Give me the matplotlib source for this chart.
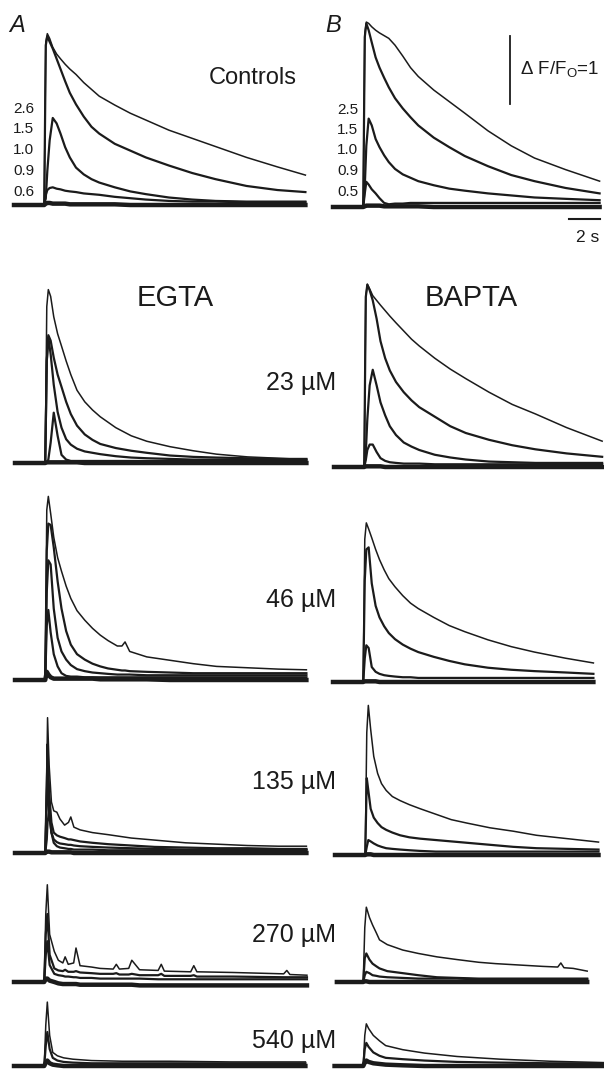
import matplotlib
matplotlib.use("Agg")
import matplotlib.pyplot as plt

plt.rcParams["font.family"] = ["Liberation Sans", "DejaVu Sans"]
plt.rcParams["mathtext.fontset"] = "custom"
plt.rcParams["mathtext.rm"] = "Liberation Sans"

# ----------------------------------------------------
# Data: dF/F0 traces (time in s)
# ----------------------------------------------------
# Controls, column A
ctrl_a_t = [0, 1.0, 1.95, 2.05, 2.15, 2.3, 2.5, 2.75, 3.0, 3.3, 3.6, 4.0, 4.5, 5.0,
            5.5, 6.5, 7.5, 8.5, 10, 11.5, 13, 15, 17, 18.8]
ctrl_a = [
    [0, 0.01, 0, 2.4, 2.52, 2.45, 2.32, 2.22, 2.15, 2.07, 2.0, 1.92, 1.8, 1.7,
     1.6, 1.47, 1.35, 1.25, 1.1, 0.98, 0.86, 0.7, 0.56, 0.44],
    [0, 0, 0, 2.35, 2.48, 2.4, 2.3, 2.15, 2.0, 1.82, 1.65, 1.48, 1.3, 1.15,
     1.05, 0.9, 0.8, 0.7, 0.58, 0.47, 0.38, 0.28, 0.22, 0.19],
    [0, 0, 0, 0.1, 0.5, 0.95, 1.28, 1.2, 1.05, 0.85, 0.7, 0.55, 0.45, 0.38,
     0.33, 0.26, 0.2, 0.16, 0.11, 0.08, 0.06, 0.05, 0.05, 0.05],
    [0, 0, 0, 0.15, 0.22, 0.25, 0.26, 0.24, 0.23, 0.21, 0.2, 0.19, 0.17, 0.16,
     0.15, 0.12, 0.1, 0.08, 0.06, 0.05, 0.05, 0.04, 0.04, 0.04],
    [0, 0, 0, 0.02, 0.03, 0.03, 0.02, 0.02, 0.02, 0.02, 0.01, 0.01, 0.01, 0.01,
     0.01, 0.01, 0, 0, 0, 0, 0, 0, 0, 0],
]
ctrl_a_labels = ["2.6", "1.5", "1.0", "0.9", "0.6"]

# Controls, column B
ctrl_b_t = [0, 1.0, 1.95, 2.05, 2.15, 2.3, 2.5, 2.75, 3.0, 3.3, 3.6, 4.0, 4.5, 5.0,
            5.5, 6.5, 7.5, 8.5, 10, 11.5, 13, 15, 17.2]
ctrl_b = [
    [0, 0, 0, 2.55, 2.72, 2.7, 2.65, 2.6, 2.56, 2.52, 2.48, 2.38, 2.22, 2.05,
     1.92, 1.72, 1.55, 1.38, 1.12, 0.9, 0.72, 0.55, 0.38],
    [0, 0, 0, 2.5, 2.7, 2.6, 2.42, 2.2, 2.05, 1.9, 1.76, 1.6, 1.45, 1.32,
     1.2, 1.02, 0.88, 0.75, 0.6, 0.47, 0.38, 0.28, 0.2],
    [0, 0, 0, 0.3, 0.9, 1.3, 1.2, 1.0, 0.88, 0.76, 0.66, 0.56, 0.48, 0.43,
     0.38, 0.32, 0.27, 0.24, 0.2, 0.17, 0.14, 0.12, 0.1],
    [0, 0, 0, 0.2, 0.37, 0.33, 0.26, 0.2, 0.13, 0.06, 0.04, 0.05, 0.05, 0.06,
     0.06, 0.06, 0.06, 0.06, 0.06, 0.06, 0.06, 0.06, 0.06],
    [0, 0, 0, 0.01, 0.02, 0.02, 0.02, 0.02, 0.02, 0.01, 0.01, 0.01, 0.01, 0.01,
     0.01, 0, 0, 0, 0, 0, 0, 0, 0],
]
ctrl_b_labels = ["2.5", "1.5", "1.0", "0.9", "0.5"]

# EGTA 23 uM
egta23_t = ctrl_a_t
egta23 = [
    [0, 0, 0, 2.3, 2.55, 2.45, 2.15, 1.9, 1.72, 1.5, 1.3, 1.07, 0.9, 0.78,
     0.68, 0.52, 0.4, 0.32, 0.24, 0.18, 0.13, 0.09, 0.07, 0.05],
    [0, 0, 0, 1.5, 1.88, 1.8, 1.55, 1.3, 1.12, 0.9, 0.72, 0.55, 0.42, 0.34,
     0.28, 0.22, 0.18, 0.15, 0.11, 0.09, 0.08, 0.07, 0.06, 0.06],
    [0, 0, 0, 1.5, 1.85, 1.6, 1.15, 0.75, 0.52, 0.35, 0.27, 0.21, 0.17, 0.15,
     0.13, 0.1, 0.08, 0.07, 0.06, 0.05, 0.05, 0.05, 0.05, 0.05],
    [0, 0, 0, 0, 0.05, 0.3, 0.74, 0.4, 0.12, 0.05, 0.03, 0.03, 0.03, 0.03,
     0.03, 0.03, 0.03, 0.03, 0.03, 0.03, 0.03, 0.03, 0.03, 0.03],
    [0, 0, 0, 0.01, 0.01, 0.01, 0.01, 0.01, 0.01, 0.01, 0.01, 0.01, 0, 0,
     0, 0, 0, 0, 0, 0, 0, 0, 0, 0],
]

# EGTA 46 uM
egta46_t = [0, 1.0, 1.95, 2.05, 2.15, 2.3, 2.5, 2.75, 3.0, 3.3, 3.6, 4.0, 4.5, 5.0,
            5.5, 6.0, 6.6, 6.9, 7.1, 7.4, 8.5, 10, 11.5, 13, 15, 17, 18.8]
egta46 = [
    [0, 0, 0, 2.5, 2.7, 2.45, 2.1, 1.8, 1.6, 1.38, 1.2, 1.02, 0.88, 0.76,
     0.66, 0.58, 0.5, 0.5, 0.56, 0.42, 0.34, 0.29, 0.24, 0.2, 0.18, 0.16, 0.15],
    [0, 0, 0, 1.9, 2.3, 2.28, 1.95, 1.45, 1.05, 0.72, 0.52, 0.38, 0.3, 0.24,
     0.2, 0.17, 0.15, 0.14, 0.14, 0.13, 0.12, 0.11, 0.1, 0.1, 0.1, 0.1, 0.1],
    [0, 0, 0, 1.3, 1.76, 1.7, 1.05, 0.62, 0.42, 0.3, 0.22, 0.16, 0.13, 0.11,
     0.1, 0.09, 0.08, 0.08, 0.08, 0.08, 0.07, 0.07, 0.07, 0.07, 0.07, 0.07, 0.07],
    [0, 0, 0, 0.8, 1.03, 0.7, 0.38, 0.2, 0.1, 0.06, 0.05, 0.05, 0.04, 0.04,
     0.04, 0.04, 0.04, 0.04, 0.04, 0.04, 0.04, 0.04, 0.04, 0.04, 0.04, 0.04, 0.04],
    [0, 0, 0, 0.12, 0.08, 0.04, 0.02, 0.02, 0.02, 0.02, 0.02, 0.02, 0.02, 0.02,
     0.01, 0.01, 0.01, 0.01, 0.01, 0.01, 0.01, 0, 0, 0, 0, 0, 0],
]

# EGTA 135 uM
egta135_t = [0, 1.0, 1.95, 2.05, 2.1, 2.2, 2.35, 2.5, 2.7, 2.9, 3.2, 3.45, 3.6,
             3.8, 4.2, 5.0, 6.0, 7.5, 9, 11, 13, 15, 17, 18.8]
egta135 = [
    [0, 0, 0, 1.2, 1.99, 1.3, 0.75, 0.62, 0.6, 0.5, 0.41, 0.45, 0.53, 0.38,
     0.34, 0.3, 0.27, 0.22, 0.19, 0.15, 0.13, 0.11, 0.1, 0.1],
    [0, 0, 0, 1.0, 1.6, 0.9, 0.45, 0.3, 0.26, 0.24, 0.22, 0.2, 0.2, 0.19,
     0.17, 0.15, 0.13, 0.11, 0.09, 0.08, 0.07, 0.07, 0.06, 0.06],
    [0, 0, 0, 0.8, 1.2, 0.6, 0.3, 0.2, 0.16, 0.14, 0.13, 0.12, 0.12, 0.11,
     0.1, 0.09, 0.08, 0.07, 0.06, 0.05, 0.05, 0.05, 0.05, 0.05],
    [0, 0, 0, 0.2, 0.45, 0.6, 0.3, 0.15, 0.1, 0.08, 0.07, 0.06, 0.06, 0.05,
     0.05, 0.05, 0.04, 0.04, 0.04, 0.04, 0.04, 0.04, 0.04, 0.04],
    [0, 0, 0, 0.02, 0.02, 0.02, 0.01, 0.01, 0.01, 0.01, 0.01, 0.01, 0.01, 0,
     0, 0, 0, 0, 0, 0, 0, 0, 0, 0],
]

# EGTA 270 uM
egta270_t = [0, 1.0, 1.95, 2.05, 2.15, 2.3, 2.6, 2.86, 3.15, 3.3, 3.5, 3.85, 4.0,
             4.26, 5.0, 5.55, 6.4, 6.6, 6.8, 7.4, 7.6, 8.1, 9.3, 9.5, 9.7, 11.4,
             11.6, 11.8, 14.1, 17.4, 17.6, 17.8, 18.9]
egta270 = [
    [0, 0, 0, 1.0, 1.43, 0.7, 0.45, 0.32, 0.28, 0.37, 0.26, 0.28, 0.5, 0.24,
     0.22, 0.2, 0.19, 0.26, 0.19, 0.2, 0.32, 0.18, 0.17, 0.26, 0.16, 0.15, 0.24,
     0.15, 0.14, 0.12, 0.17, 0.11, 0.1],
    [0, 0, 0, 0.7, 1.0, 0.4, 0.2, 0.17, 0.16, 0.18, 0.15, 0.15, 0.16, 0.14,
     0.13, 0.12, 0.12, 0.13, 0.11, 0.11, 0.12, 0.1, 0.1, 0.12, 0.09, 0.09, 0.1,
     0.08, 0.08, 0.07, 0.07, 0.07, 0.07],
    [0, 0, 0, 0.4, 0.6, 0.25, 0.12, 0.1, 0.09, 0.08, 0.08, 0.07, 0.07, 0.06,
     0.06, 0.05, 0.05, 0.05, 0.05, 0.05, 0.05, 0.05, 0.04, 0.04, 0.04, 0.04, 0.04,
     0.04, 0.04, 0.04, 0.04, 0.04, 0.04],
    [0, 0, 0, 0.05, 0.05, 0.02, 0, -0.02, -0.03, -0.03, -0.03, -0.03, -0.03, -0.04,
     -0.04, -0.04, -0.04, -0.04, -0.04, -0.04, -0.04, -0.05, -0.05, -0.05, -0.05, -0.05, -0.05,
     -0.05, -0.05, -0.05, -0.05, -0.05, -0.05],
]

# EGTA 540 uM
egta540_t = [0, 1.0, 1.95, 2.05, 2.15, 2.3, 2.5, 2.8, 3.2, 3.8, 5, 7, 10, 14, 18.8]
egta540 = [
    [0, 0, 0, 0.6, 0.94, 0.45, 0.2, 0.15, 0.12, 0.1, 0.08, 0.07, 0.07, 0.06, 0.06],
    [0, 0, 0, 0.3, 0.5, 0.25, 0.12, 0.08, 0.06, 0.05, 0.04, 0.04, 0.04, 0.04, 0.04],
    [0, 0, 0, 0.05, 0.08, 0.04, 0.02, 0.01, 0, 0, 0, 0, 0, 0, 0],
]

# BAPTA 23 uM
bapta23_t = [0, 1.0, 1.95, 2.05, 2.15, 2.3, 2.5, 2.75, 3.0, 3.3, 3.6, 4.0, 4.5, 5.0,
             5.5, 6.5, 7.5, 8.5, 10, 11.5, 13, 15, 17.3]
bapta23 = [
    [0, 0, 0, 2.5, 2.69, 2.62, 2.52, 2.45, 2.38, 2.3, 2.22, 2.12, 2.0, 1.88,
     1.78, 1.6, 1.44, 1.3, 1.1, 0.92, 0.78, 0.58, 0.38],
    [0, 0, 0, 2.5, 2.68, 2.6, 2.45, 2.18, 1.85, 1.6, 1.42, 1.25, 1.1, 0.98,
     0.88, 0.74, 0.6, 0.5, 0.4, 0.32, 0.26, 0.2, 0.15],
    [0, 0, 0, 0.2, 0.7, 1.2, 1.43, 1.2, 0.95, 0.76, 0.6, 0.47, 0.36, 0.3,
     0.25, 0.18, 0.14, 0.11, 0.08, 0.07, 0.06, 0.06, 0.06],
    [0, 0, 0, 0.1, 0.25, 0.33, 0.33, 0.22, 0.13, 0.09, 0.07, 0.06, 0.05, 0.05,
     0.05, 0.04, 0.04, 0.04, 0.04, 0.04, 0.04, 0.04, 0.04],
    [0, 0, 0, 0.01, 0.01, 0.01, 0.01, 0.01, 0.01, 0, 0, 0, 0, 0,
     0, 0, 0, 0, 0, 0, 0, 0, 0],
]

# BAPTA 46 uM
bapta46_t = [0, 1.0, 1.95, 2.05, 2.15, 2.3, 2.5, 2.75, 3.0, 3.3, 3.6, 4.0, 4.5, 5.0,
             5.5, 6.5, 7.5, 8.5, 10, 11.5, 13, 15, 16.8]
bapta46 = [
    [0, 0, 0, 2.1, 2.34, 2.25, 2.12, 1.95, 1.8, 1.65, 1.52, 1.4, 1.27, 1.16,
     1.08, 0.95, 0.83, 0.74, 0.62, 0.52, 0.44, 0.35, 0.28],
    [0, 0, 0, 1.5, 1.95, 1.98, 1.45, 1.12, 0.95, 0.82, 0.72, 0.63, 0.55, 0.49,
     0.44, 0.37, 0.31, 0.26, 0.21, 0.18, 0.16, 0.14, 0.12],
    [0, 0, 0, 0.35, 0.54, 0.5, 0.22, 0.15, 0.12, 0.1, 0.09, 0.08, 0.07, 0.07,
     0.06, 0.06, 0.06, 0.06, 0.06, 0.06, 0.06, 0.06, 0.06],
    [0, 0, 0, 0.01, 0.01, 0.01, 0.01, 0.01, 0, 0, 0, 0, 0, 0,
     0, 0, 0, 0, 0, 0, 0, 0, 0],
]

# BAPTA 135 uM
bapta135_t = [0, 1.0, 1.95, 2.05, 2.15, 2.3, 2.5, 2.75, 3.0, 3.3, 3.7, 4.2, 4.8,
              5.5, 6.5, 7.5, 8.5, 10, 11.5, 13, 15, 17]
bapta135 = [
    [0, 0, 0, 1.8, 2.2, 1.85, 1.45, 1.2, 1.05, 0.95, 0.86, 0.8, 0.74, 0.68,
     0.6, 0.52, 0.47, 0.4, 0.35, 0.29, 0.24, 0.19],
    [0, 0, 0, 1.13, 0.95, 0.68, 0.55, 0.47, 0.41, 0.37, 0.33, 0.29, 0.26, 0.24,
     0.22, 0.2, 0.18, 0.15, 0.12, 0.1, 0.09, 0.08],
    [0, 0, 0, 0.12, 0.22, 0.2, 0.17, 0.14, 0.12, 0.1, 0.09, 0.08, 0.07, 0.06,
     0.05, 0.05, 0.05, 0.05, 0.05, 0.05, 0.05, 0.05],
    [0, 0, 0, 0.01, 0.01, 0.01, 0, 0, 0, 0, 0, 0, 0, 0,
     0, 0, 0, 0, 0, 0, 0, 0],
]

# BAPTA 270 uM
bapta270_t = [0.25, 1.0, 1.95, 2.05, 2.15, 2.35, 2.55, 2.8, 3.0, 3.5, 4.5, 5.5,
              6.7, 8, 9.4, 10.5, 12, 13.5, 14.5, 14.7, 14.9, 15.5, 16.4]
bapta270 = [
    [0, 0, 0, 0.8, 1.1, 0.95, 0.84, 0.72, 0.62, 0.55, 0.47, 0.42, 0.37, 0.33,
     0.29, 0.27, 0.25, 0.23, 0.22, 0.28, 0.21, 0.2, 0.16],
    [0, 0, 0, 0.35, 0.42, 0.33, 0.27, 0.23, 0.2, 0.16, 0.13, 0.1, 0.07, 0.06,
     0.05, 0.05, 0.05, 0.05, 0.05, 0.05, 0.05, 0.05, 0.05],
    [0, 0, 0, 0.1, 0.15, 0.13, 0.1, 0.09, 0.08, 0.07, 0.06, 0.05, 0.05, 0.05,
     0.04, 0.04, 0.04, 0.04, 0.04, 0.04, 0.04, 0.04, 0.04],
    [0, 0, 0, 0.01, 0.01, 0, 0, 0, 0, 0, 0, 0, 0, 0,
     0, 0, 0, 0, 0, 0, 0, 0, 0],
]

# BAPTA 540 uM
bapta540_t = [0.1, 1.0, 1.95, 2.05, 2.15, 2.3, 2.6, 3.0, 3.4, 4.5, 5.9, 8, 10.8, 14, 17.5]
bapta540 = [
    [0, 0, 0, 0.45, 0.62, 0.55, 0.45, 0.37, 0.3, 0.24, 0.19, 0.14, 0.1, 0.07, 0.05],
    [0, 0, 0, 0.25, 0.34, 0.28, 0.2, 0.15, 0.12, 0.1, 0.08, 0.06, 0.05, 0.04, 0.04],
    [0, 0, 0, 0.05, 0.08, 0.06, 0.04, 0.03, 0.02, 0.01, 0, 0, 0, 0, 0],
]

conc_labels = ["23 µM", "46 µM", "135 µM", "270 µM", "540 µM"]

# ----------------------------------------------------
# Layout (pixels on a 604 x 1072 canvas)
# ----------------------------------------------------
W, H = 604, 1072
PX_S = 15.5   # pixels per second
PX_U = 68.0   # pixels per unit dF/F0
INK = "#1b1b1b"

fig = plt.figure(figsize=(W / 100, H / 100), dpi=100)
fig.patch.set_facecolor("white")


def panel(x0, base, tmax=19.6, ylo=-0.4, yhi=2.95):
    bottom_px = base + (-ylo) * PX_U
    ax = fig.add_axes([x0 / W, (H - bottom_px) / H,
                       tmax * PX_S / W, (yhi - ylo) * PX_U / H])
    ax.set_xlim(0, tmax)
    ax.set_ylim(ylo, yhi)
    ax.axis("off")
    return ax


def draw(ax, t, traces):
    n = len(traces)
    for i, y in enumerate(traces):
        lw = 1.1 if i == 0 else 1.6
        if i == n - 1:
            lw = 3.2
        ax.plot(t, y, color=INK, lw=lw, clip_on=False, solid_joinstyle="round")


def ftext(x, y, s, **kw):
    fig.text(x / W, 1 - y / H, s, color=INK, **kw)


# panels: (left px of t=0, baseline px)
ax = panel(14, 205)
draw(ax, ctrl_a_t, ctrl_a)
ax = panel(333, 207)
draw(ax, ctrl_b_t, ctrl_b)
# scale bars on panel B
ax.plot([11.4, 11.4], [1.51, 2.51], color=INK, lw=1.3, clip_on=False)
ax.plot([15.2, 17.2], [-0.18, -0.18], color=INK, lw=1.5, clip_on=False)

ax = panel(15, 463)
draw(ax, egta23_t, egta23)
ax = panel(334, 467)
draw(ax, bapta23_t, bapta23)

ax = panel(15, 680)
draw(ax, egta46_t, egta46)
ax = panel(333, 682)
draw(ax, bapta46_t, bapta46)

ax = panel(15, 853)
draw(ax, egta135_t, egta135)
ax = panel(335, 855)
draw(ax, bapta135_t, bapta135)

ax = panel(14, 982)
draw(ax, egta270_t, egta270)
ax = panel(333, 982)
draw(ax, bapta270_t, bapta270)

ax = panel(14, 1066)
draw(ax, egta540_t, egta540)
ax = panel(333, 1066)
draw(ax, bapta540_t, bapta540)

# ----------------------------------------------------
# Text
# ----------------------------------------------------
ftext(17, 26, "A", fontsize=17, style="italic", ha="center", va="center")
ftext(333, 25, "B", fontsize=17, style="italic", ha="center", va="center")
ftext(297, 78, "Controls", fontsize=17, ha="right", va="center")

for lab, yy in zip(ctrl_a_labels, [109, 129, 150, 171, 192]):
    ftext(34, yy, lab, fontsize=11, ha="right", va="center")
for lab, yy in zip(ctrl_b_labels, [110, 130, 150, 171, 192]):
    ftext(358, yy, lab, fontsize=11, ha="right", va="center")

ftext(520, 70, r"Δ F/F$_{\rm O}$=1", fontsize=13.5, ha="left", va="center")
ftext(588, 237, "2 s", fontsize=12.5, ha="center", va="center")

ftext(175, 298, "EGTA", fontsize=21, ha="center", va="center")
ftext(471, 298, "BAPTA", fontsize=21, ha="center", va="center")

for lab, yy in zip(conc_labels, [383, 600, 782, 935, 1041]):
    ftext(336, yy, lab, fontsize=18, ha="right", va="center")

fig.savefig("out.png", dpi=100, facecolor="white")
